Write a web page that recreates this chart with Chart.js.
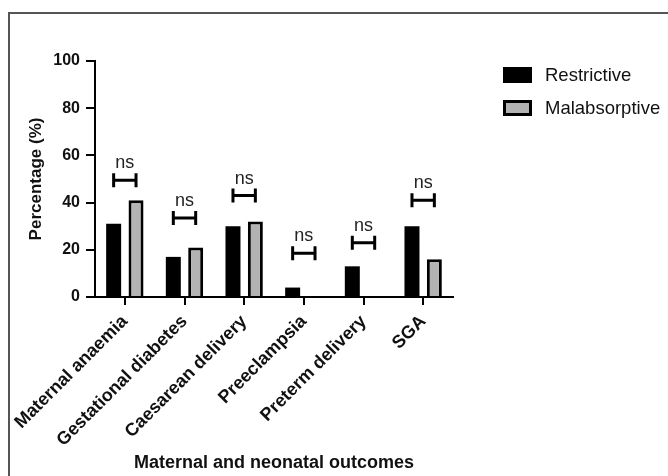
<!DOCTYPE html>
<html>
<head>
<meta charset="utf-8">
<script src="https://cdn.jsdelivr.net/npm/chart.js@4"></script>
<style>
  html, body { margin: 0; padding: 0; background: #fff; }
  #wrap { position: relative; width: 668px; height: 476px; }
  #frame { position: absolute; left: 8px; top: 12px; right: 0; bottom: 0; border-left: 2px solid #555; border-top: 2px solid #555; }
  canvas { position: absolute; left: 0; top: 0; }
</style>
</head>
<body>
<div id="wrap">
  <div id="frame"></div>
  <canvas id="outcomeChart" width="668" height="476"></canvas>
</div>
<script>
const outcomes = ['Maternal anaemia', 'Gestational diabetes', 'Caesarean delivery', 'Preeclampsia', 'Preterm delivery', 'SGA'];
const restrictive = [31, 17, 30, 4, 13, 30];
const malabsorptive = [41, 21, 32, 0, 0, 16];
const bracketLevels = [49.5, 33.5, 43, 18.5, 23, 41];
const bracketLabels = ['ns', 'ns', 'ns', 'ns', 'ns', 'ns'];
const yTicks = [0, 20, 40, 60, 80, 100];

const FONT = '"Liberation Sans", Arial, sans-serif';

// "ns" brackets between the two bars of each group
const sigBrackets = {
  id: 'sigBrackets',
  afterDatasetsDraw(chart) {
    const { ctx } = chart;
    const y = chart.scales.y;
    const a = chart.getDatasetMeta(0).data;
    const b = chart.getDatasetMeta(1).data;
    ctx.save();
    ctx.strokeStyle = '#000';
    ctx.lineWidth = 3;
    ctx.fillStyle = '#222';
    ctx.font = '18px ' + FONT;
    ctx.textAlign = 'center';
    ctx.textBaseline = 'alphabetic';
    bracketLevels.forEach((v, i) => {
      const x1 = a[i].x, x2 = b[i].x;
      const py = y.getPixelForValue(v);
      ctx.beginPath();
      ctx.moveTo(x1, py); ctx.lineTo(x2, py);
      ctx.moveTo(x1, py - 7); ctx.lineTo(x1, py + 7);
      ctx.moveTo(x2, py - 7); ctx.lineTo(x2, py + 7);
      ctx.stroke();
      ctx.fillText(bracketLabels[i], (x1 + x2) / 2, py - 12);
    });
    ctx.restore();
  }
};

// legend drawn at the right, away from the plot
const sideLegend = {
  id: 'sideLegend',
  afterDraw(chart, args, opts) {
    const { ctx } = chart;
    ctx.save();
    chart.data.datasets.forEach((ds, i) => {
      const top = opts.top + i * opts.spacing;
      ctx.fillStyle = ds.backgroundColor;
      ctx.fillRect(opts.left, top, opts.boxWidth, opts.boxHeight);
      if (ds.borderWidth) {
        const bw = ds.borderWidth;
        ctx.lineWidth = bw;
        ctx.strokeStyle = ds.borderColor;
        ctx.strokeRect(opts.left + bw / 2, top + bw / 2, opts.boxWidth - bw, opts.boxHeight - bw);
      }
      ctx.fillStyle = '#111';
      ctx.font = '18.5px ' + FONT;
      ctx.textBaseline = 'middle';
      ctx.textAlign = 'left';
      ctx.fillText(ds.label, opts.left + opts.boxWidth + 13, top + opts.boxHeight / 2 + 1);
    });
    ctx.restore();
  }
};

new Chart(document.getElementById('outcomeChart'), {
  type: 'bar',
  data: {
    labels: outcomes,
    datasets: [
      {
        label: 'Restrictive',
        data: restrictive,
        backgroundColor: '#000',
        borderWidth: 0,
        categoryPercentage: 0.75,
        barPercentage: 0.67
      },
      {
        label: 'Malabsorptive',
        data: malabsorptive,
        backgroundColor: '#b3b3b3',
        borderColor: '#000',
        borderWidth: 3,
        categoryPercentage: 0.75,
        barPercentage: 0.67
      }
    ]
  },
  options: {
    responsive: false,
    animation: false,
    layout: { padding: { top: 61, right: 215, left: 0, bottom: 0 } },
    plugins: {
      legend: { display: false },
      tooltip: { enabled: false },
      sideLegend: { left: 503, top: 67, boxWidth: 29, boxHeight: 16, spacing: 33 }
    },
    scales: {
      x: {
        offset: true,
        grid: { drawOnChartArea: false, offset: false, color: '#000', lineWidth: 2, tickLength: 8 },
        border: { color: '#000', width: 2 },
        ticks: {
          color: '#111',
          font: { family: FONT, size: 18, weight: 'bold' },
          minRotation: 45,
          maxRotation: 45,
          autoSkip: false,
          padding: 6
        },
        title: {
          display: true,
          text: 'Maternal and neonatal outcomes',
          color: '#111',
          font: { family: FONT, size: 18, weight: 'bold' },
          padding: { top: 0, bottom: 2 }
        },
        afterFit(scale) { scale.height = 476 - 297; }
      },
      y: {
        min: 0,
        max: 100,
        afterBuildTicks(scale) { scale.ticks = yTicks.map(v => ({ value: v })); },
        grid: { drawOnChartArea: false, color: '#000', lineWidth: 2, tickLength: 9 },
        border: { color: '#000', width: 2 },
        ticks: {
          color: '#111',
          font: { family: FONT, size: 16, weight: 'bold' },
          padding: 6
        },
        title: {
          display: true,
          text: 'Percentage (%)',
          color: '#111',
          font: { family: FONT, size: 17, weight: 'bold' },
          padding: { top: 26, bottom: 0 }
        },
        afterFit(scale) { scale.width = 95; }
      }
    }
  },
  plugins: [sigBrackets, sideLegend]
});
</script>
</body>
</html>
